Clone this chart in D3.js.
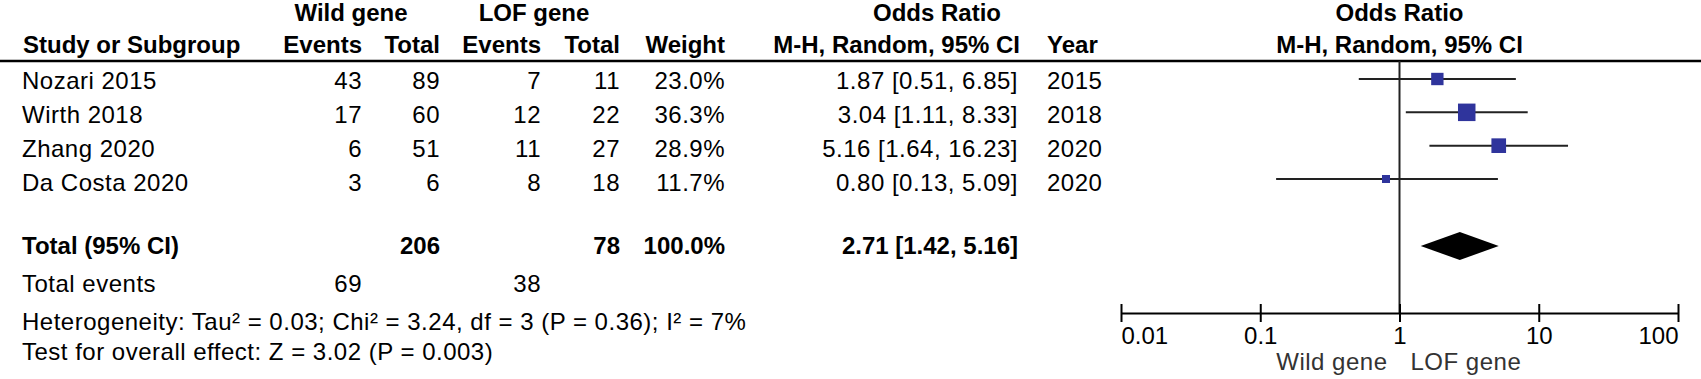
<!DOCTYPE html>
<html>
<head>
<meta charset="utf-8">
<script src="https://cdn.jsdelivr.net/npm/d3@7"></script>
<style>
  html, body { margin: 0; padding: 0; background: #fff; }
  svg { display: block; }
  text { font-family: "Liberation Sans", Arial, sans-serif; font-size: 24px; fill: #000; }
  .reg { letter-spacing: 0.5px; }
  .bold { font-weight: bold; }
</style>
</head>
<body>
<svg id="chart" width="1701" height="379"></svg>
<script>
// ---------- data ----------
const studies    = ["Nozari 2015", "Wirth 2018", "Zhang 2020", "Da Costa 2020"];
const wildEvents = [43, 17, 6, 3];
const wildTotal  = [89, 60, 51, 6];
const lofEvents  = [7, 12, 11, 8];
const lofTotal   = [11, 22, 27, 18];
const weights    = [23.0, 36.3, 28.9, 11.7];
const orValues   = [1.87, 3.04, 5.16, 0.80];
const ciLow      = [0.51, 1.11, 1.64, 0.13];
const ciHigh     = [6.85, 8.33, 16.23, 5.09];
const years      = [2015, 2018, 2020, 2020];

const totalWild   = 206;
const totalLof    = 78;
const totalWeight = 100.0;
const pooled      = [2.71, 1.42, 5.16];   // OR, low, high
const totalEvents = [69, 38];             // wild, LOF
const heterogeneityText = "Heterogeneity: Tau\u00b2 = 0.03; Chi\u00b2 = 3.24, df = 3 (P = 0.36); I\u00b2 = 7%";
const overallText = "Test for overall effect: Z = 3.02 (P = 0.003)";

const tickValues = [0.01, 0.1, 1, 10, 100];
const tickLabels = ["0.01", "0.1", "1", "10", "100"];
const favourLabels = ["Wild gene", "LOF gene"];

// ---------- layout ----------
const svg = d3.select("#chart");
const x = d3.scaleLog().domain([0.01, 100]).range([1121, 1678]);
const rowY = d3.scaleLinear().domain([0, studies.length - 1]).range([79, 179]);
const textY = d3.scaleLinear().domain([0, studies.length - 1]).range([81, 183]);
const sq = d3.scaleLinear().domain(d3.extent(weights)).range([8, 17.5]);

const col = { study: 22, wEv: 362, wTot: 440, lEv: 541, lTot: 620, weight: 725, or: 1018, year: 1047 };
const yHead1 = 13, yHead2 = 45, yLine = 61, yTotal = 246, yEvents = 284, yHet = 322, yTest = 352, yAxis = 313;
const dy = 8.4;

function txt(xp, yp, s, anchor, cls) {
  return svg.append("text").attr("x", xp).attr("y", yp + dy)
    .attr("text-anchor", anchor || "start").attr("class", cls || "reg").text(s);
}

// headers
txt(351, yHead1, "Wild gene", "middle", "bold");
txt(534, yHead1, "LOF gene", "middle", "bold");
txt(937, yHead1, "Odds Ratio", "middle", "bold");
txt(x(1), yHead1, "Odds Ratio", "middle", "bold");
txt(23, yHead2, "Study or Subgroup", "start", "bold");
txt(col.wEv, yHead2, "Events", "end", "bold");
txt(col.wTot, yHead2, "Total", "end", "bold");
txt(col.lEv, yHead2, "Events", "end", "bold");
txt(col.lTot, yHead2, "Total", "end", "bold");
txt(col.weight, yHead2, "Weight", "end", "bold");
txt(1020, yHead2, "M-H, Random, 95% CI", "end", "bold");
txt(col.year, yHead2, "Year", "start", "bold");
txt(x(1), yHead2, "M-H, Random, 95% CI", "middle", "bold");

svg.append("line").attr("x1", 0).attr("x2", 1701).attr("y1", yLine).attr("y2", yLine)
  .attr("stroke", "#000").attr("stroke-width", 2.5);

// study rows
const fmt2 = d3.format(".2f");
studies.forEach((s, i) => {
  const y = textY(i);
  txt(col.study, y, s, "start");
  txt(col.wEv, y, wildEvents[i], "end");
  txt(col.wTot, y, wildTotal[i], "end");
  txt(col.lEv, y, lofEvents[i], "end");
  txt(col.lTot, y, lofTotal[i], "end");
  txt(col.weight, y, d3.format(".1f")(weights[i]) + "%", "end");
  txt(col.or, y, `${fmt2(orValues[i])} [${fmt2(ciLow[i])}, ${fmt2(ciHigh[i])}]`, "end");
  txt(col.year, y, years[i], "start");
});

// totals
txt(col.study, yTotal, "Total (95% CI)", "start", "bold");
txt(col.wTot, yTotal, totalWild, "end", "bold");
txt(col.lTot, yTotal, totalLof, "end", "bold");
txt(col.weight, yTotal, d3.format(".1f")(totalWeight) + "%", "end", "bold");
txt(col.or, yTotal, `${fmt2(pooled[0])} [${fmt2(pooled[1])}, ${fmt2(pooled[2])}]`, "end", "bold");
txt(col.study, yEvents, "Total events", "start");
txt(col.wEv, yEvents, totalEvents[0], "end");
txt(col.lEv, yEvents, totalEvents[1], "end");
txt(col.study, yHet, heterogeneityText, "start");
txt(col.study, yTest, overallText, "start");

// ---------- forest plot ----------
svg.append("line").attr("x1", x(1)).attr("x2", x(1)).attr("y1", yLine).attr("y2", yAxis)
  .attr("stroke", "#222").attr("stroke-width", 2);

const g = svg.append("g");
g.selectAll("line.ci").data(studies).join("line").attr("class", "ci")
  .attr("x1", (d, i) => x(ciLow[i])).attr("x2", (d, i) => x(ciHigh[i]))
  .attr("y1", (d, i) => rowY(i)).attr("y2", (d, i) => rowY(i))
  .attr("stroke", "#222").attr("stroke-width", 2);
g.selectAll("rect.pt").data(studies).join("rect").attr("class", "pt")
  .attr("x", (d, i) => x(orValues[i]) - sq(weights[i]) / 2)
  .attr("y", (d, i) => rowY(i) - sq(weights[i]) / 2)
  .attr("width", (d, i) => sq(weights[i])).attr("height", (d, i) => sq(weights[i]))
  .attr("fill", "#2f349c");

// diamond
const dh = 14;
svg.append("path")
  .attr("d", `M${x(pooled[1])},${yTotal} L${x(pooled[0])},${yTotal - dh} L${x(pooled[2])},${yTotal} L${x(pooled[0])},${yTotal + dh} Z`)
  .attr("fill", "#000");

// axis
const axis = d3.axisBottom(x).tickValues(tickValues).tickFormat((d, i) => tickLabels[i])
  .tickSizeOuter(0).tickSizeInner(9);
const ag = svg.append("g").attr("transform", `translate(0,${yAxis})`).call(axis);
ag.select(".domain").attr("stroke", "#000").attr("stroke-width", 2);
ag.selectAll(".tick line").attr("y1", -9).attr("y2", 9).attr("stroke", "#000").attr("stroke-width", 2);
ag.selectAll(".tick text")
  .attr("y", 14).attr("dy", "0.71em")
  .style("font-family", "\"Liberation Sans\", Arial, sans-serif").style("font-size", "24px")
  .attr("fill", "#000")
  .attr("text-anchor", (d, i) => i === 0 ? "start" : (i === tickValues.length - 1 ? "end" : "middle"));

// favour labels
svg.append("text").attr("x", x(1) - 12).attr("y", 362 + dy).attr("text-anchor", "end")
  .attr("class", "reg").style("fill", "#333").text(favourLabels[0]);
svg.append("text").attr("x", x(1) + 11).attr("y", 362 + dy).attr("text-anchor", "start")
  .attr("class", "reg").style("fill", "#333").text(favourLabels[1]);
</script>
</body>
</html>
